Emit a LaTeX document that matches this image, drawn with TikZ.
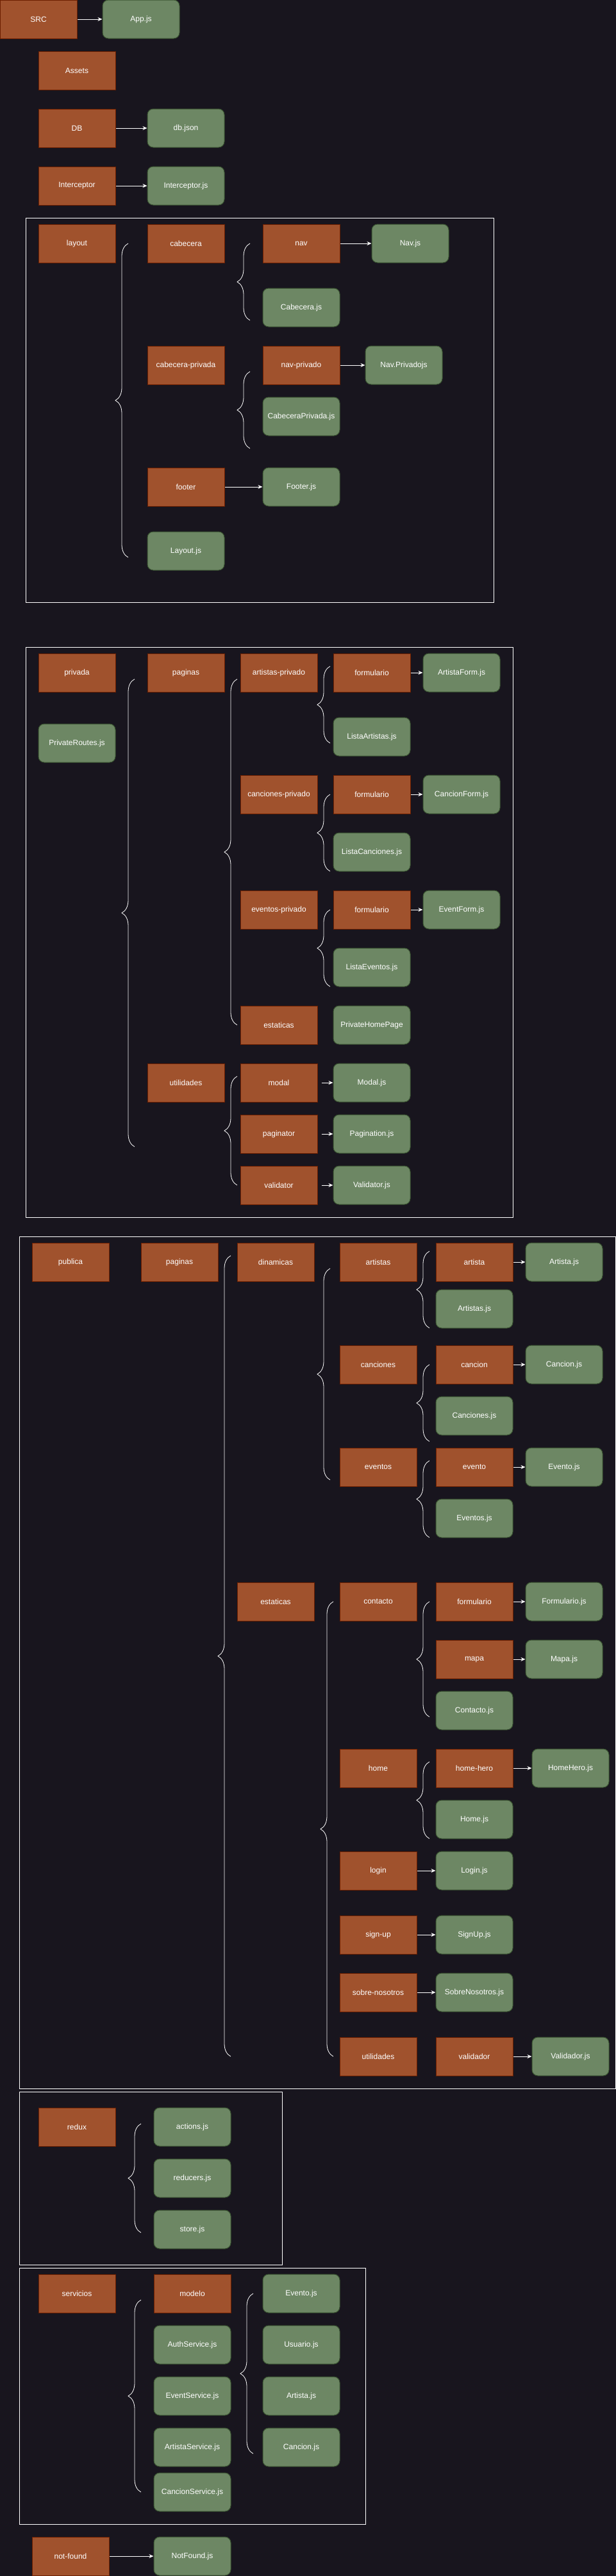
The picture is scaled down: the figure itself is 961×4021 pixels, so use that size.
\documentclass[tikz,border=0pt]{standalone}
\usepackage{fontspec}
\setmainfont{Liberation Sans}
\usetikzlibrary{arrows.meta, decorations.pathreplacing}

\definecolor{fondo}{HTML}{18151E}
\definecolor{naranja}{HTML}{A0522D}
\definecolor{naranjaborde}{HTML}{6D1F00}
\definecolor{verde}{HTML}{6D8764}
\definecolor{verdeborde}{HTML}{3A5431}

\tikzset{
	carpeta/.style={draw=naranjaborde, fill=naranja, text=white, line width=1pt,
		minimum width=120pt, minimum height=60pt, inner sep=0pt,
		font=\fontsize{12}{14}\selectfont},
	archivo/.style={carpeta, draw=verdeborde, fill=verde, rounded corners=9pt},
	llave/.style={draw=white, line width=0.8pt, decorate, decoration={brace, amplitude=20pt}},
	marco/.style={draw=white, line width=1pt},
	flecha/.style={draw=white, line width=1pt, ->, >={Stealth[length=7pt, width=6pt]}},
}

\begin{document}
\begin{tikzpicture}[x=1pt, y=-1pt]
	\fill[fondo] (0, 0) rectangle (961, 4021);
	\useasboundingbox (0, 0) rectangle (961, 4021);

	% raiz
	\node[carpeta] (src) at (60, 30) {SRC};
	\node[archivo] (app) at (220, 30) {App.js};
	\node[carpeta] (assets) at (120, 110) {Assets};
	\node[carpeta] (db) at (120, 200) {DB};
	\node[archivo] (dbjson) at (290, 200) {db.json};
	\node[carpeta] (inter) at (120, 290) {Interceptor};
	\node[archivo] (interjs) at (290, 290) {Interceptor.js};

	\draw[flecha] (src) -- (app);
	\draw[flecha] (db) -- (dbjson);
	\draw[flecha] (inter) -- (interjs);

	% layout
	\draw[marco] (40, 340) rectangle (770, 940);

	\node[carpeta] (layout) at (120, 380) {layout};
	\node[carpeta] (cab) at (290, 380) {cabecera};
	\node[carpeta] (nav) at (470, 380) {nav};
	\node[archivo] (navjs) at (640, 380) {Nav.js};
	\node[archivo] (cabjs) at (470, 480) {Cabecera.js};
	\node[carpeta] (cabp) at (290, 570) {cabecera-privada};
	\node[carpeta] (navp) at (470, 570) {nav-privado};
	\node[archivo] (navpjs) at (630, 570) {Nav.Privadojs};
	\node[archivo] (cabpjs) at (470, 650) {CabeceraPrivada.js};
	\node[carpeta] (footer) at (290, 760) {footer};
	\node[archivo] (footerjs) at (470, 760) {Footer.js};
	\node[archivo] (layoutjs) at (290, 860) {Layout.js};

	\draw[flecha] (nav) -- (navjs);
	\draw[flecha] (navp) -- (navpjs);
	\draw[flecha] (footer) -- (footerjs);

	\draw[llave] (200, 870) -- (200, 380);
	\draw[llave] (390, 500) -- (390, 380);
	\draw[llave] (390, 700) -- (390, 580);

	% privada
	\draw[marco] (40, 1010) rectangle (800, 1900);

	\node[carpeta] (priv) at (120, 1050) {privada};
	\node[archivo] (privjs) at (120, 1160) {PrivateRoutes.js};
	\node[carpeta] (ppag) at (290, 1050) {paginas};
	\node[carpeta] (part) at (435, 1050) {artistas-privado};
	\node[carpeta] (pform1) at (580, 1050) {formulario};
	\node[archivo] (pform1js) at (720, 1050) {ArtistaForm.js};
	\node[archivo] (plart) at (580, 1150) {ListaArtistas.js};
	\node[carpeta] (pcan) at (435, 1240) {canciones-privado};
	\node[carpeta] (pform2) at (580, 1240) {formulario};
	\node[archivo] (pform2js) at (720, 1240) {CancionForm.js};
	\node[archivo] (plcan) at (580, 1330) {ListaCanciones.js};
	\node[carpeta] (pev) at (435, 1420) {eventos-privado};
	\node[carpeta] (pform3) at (580, 1420) {formulario};
	\node[archivo] (pform3js) at (720, 1420) {EventForm.js};
	\node[archivo] (plev) at (580, 1510) {ListaEventos.js};
	\node[carpeta] (pest) at (435, 1600) {estaticas};
	\node[archivo] (phome) at (580, 1600) {PrivateHomePage};
	\node[carpeta] (putil) at (290, 1690) {utilidades};
	\node[carpeta] (pmodal) at (435, 1690) {modal};
	\node[archivo] (pmodaljs) at (580, 1690) {Modal.js};
	\node[carpeta] (ppagin) at (435, 1770) {paginator};
	\node[archivo] (ppaginjs) at (580, 1770) {Pagination.js};
	\node[carpeta] (pvalid) at (435, 1850) {validator};
	\node[archivo] (pvalidjs) at (580, 1850) {Validator.js};

	\draw[flecha] (pform1) -- (pform1js);
	\draw[flecha] (pform2) -- (pform2js);
	\draw[flecha] (pform3) -- (pform3js);
	\draw[flecha, shorten <=6pt] (pmodal) -- (pmodaljs);
	\draw[flecha, shorten <=6pt] (ppagin) -- (ppaginjs);
	\draw[flecha, shorten <=6pt] (pvalid) -- (pvalidjs);

	\draw[llave] (210, 1790) -- (210, 1060);
	\draw[llave] (370, 1600) -- (370, 1060);
	\draw[llave] (515, 1160) -- (515, 1040);
	\draw[llave] (515, 1360) -- (515, 1240);
	\draw[llave] (515, 1540) -- (515, 1420);
	\draw[llave] (370, 1850) -- (370, 1680);

	% publica
	\draw[marco] (30, 1930) rectangle (960, 3260);

	\node[carpeta] (pub) at (110, 1970) {publica};
	\node[carpeta] (upag) at (280, 1970) {paginas};
	\node[carpeta] (udin) at (430, 1970) {dinamicas};
	\node[carpeta] (uarts) at (590, 1970) {artistas};
	\node[carpeta] (uart) at (740, 1970) {artista};
	\node[archivo] (uartjs) at (880, 1970) {Artista.js};
	\node[archivo] (uartsjs) at (740, 2043) {Artistas.js};
	\node[carpeta] (ucans) at (590, 2130) {canciones};
	\node[carpeta] (ucan) at (740, 2130) {cancion};
	\node[archivo] (ucanjs) at (880, 2130) {Cancion.js};
	\node[archivo] (ucansjs) at (740, 2210) {Canciones.js};
	\node[carpeta] (uevs) at (590, 2290) {eventos};
	\node[carpeta] (uev) at (740, 2290) {evento};
	\node[archivo] (uevjs) at (880, 2290) {Evento.js};
	\node[archivo] (uevsjs) at (740, 2370) {Eventos.js};
	\node[carpeta] (uest) at (430, 2500) {estaticas};
	\node[carpeta] (ucont) at (590, 2500) {contacto};
	\node[carpeta] (uform) at (740, 2500) {formulario};
	\node[archivo] (uformjs) at (880, 2500) {Formulario.js};
	\node[carpeta] (umapa) at (740, 2590) {mapa};
	\node[archivo] (umapajs) at (880, 2590) {Mapa.js};
	\node[archivo] (ucontjs) at (740, 2670) {Contacto.js};
	\node[carpeta] (uhome) at (590, 2760) {home};
	\node[carpeta] (uhero) at (740, 2760) {home-hero};
	\node[archivo] (uherojs) at (890, 2760) {HomeHero.js};
	\node[archivo] (uhomejs) at (740, 2840) {Home.js};
	\node[carpeta] (ulogin) at (590, 2920) {login};
	\node[archivo] (uloginjs) at (740, 2920) {Login.js};
	\node[carpeta] (usign) at (590, 3020) {sign-up};
	\node[archivo] (usignjs) at (740, 3020) {SignUp.js};
	\node[carpeta] (usobre) at (590, 3110) {sobre-nosotros};
	\node[archivo] (usobrejs) at (740, 3110) {SobreNosotros.js};
	\node[carpeta] (uutil) at (590, 3210) {utilidades};
	\node[carpeta] (uvalid) at (740, 3210) {validador};
	\node[archivo] (uvalidjs) at (890, 3210) {Validador.js};

	\draw[flecha] (uart) -- (uartjs);
	\draw[flecha] (ucan) -- (ucanjs);
	\draw[flecha] (uev) -- (uevjs);
	\draw[flecha] (uform) -- (uformjs);
	\draw[flecha] (umapa) -- (umapajs);
	\draw[flecha] (uhero) -- (uherojs);
	\draw[flecha] (ulogin) -- (uloginjs);
	\draw[flecha] (usign) -- (usignjs);
	\draw[flecha] (usobre) -- (usobrejs);
	\draw[flecha] (uvalid) -- (uvalidjs);

	\draw[llave] (360, 3210) -- (360, 1960);
	\draw[llave] (515, 2310) -- (515, 1980);
	\draw[llave] (670, 2073) -- (670, 1953);
	\draw[llave] (670, 2250) -- (670, 2130);
	\draw[llave] (670, 2400) -- (670, 2280);
	\draw[llave] (520, 3210) -- (520, 2500);
	\draw[llave] (670, 2680) -- (670, 2500);
	\draw[llave] (670, 2870) -- (670, 2750);

	% redux
	\draw[marco] (30, 3265) rectangle (440, 3535);

	\node[carpeta] (redux) at (120, 3320) {redux};
	\node[archivo] (actions) at (300, 3320) {actions.js};
	\node[archivo] (reducers) at (300, 3400) {reducers.js};
	\node[archivo] (store) at (300, 3480) {store.js};

	\draw[llave] (220, 3485) -- (220, 3315);

	% servicios
	\draw[marco] (30, 3540) rectangle (570, 3940);

	\node[carpeta] (serv) at (120, 3580) {servicios};
	\node[carpeta] (modelo) at (300, 3580) {modelo};
	\node[archivo] (auth) at (300, 3660) {AuthService.js};
	\node[archivo] (evserv) at (300, 3740) {EventService.js};
	\node[archivo] (artserv) at (300, 3820) {ArtistaService.js};
	\node[archivo] (canserv) at (300, 3890) {CancionService.js};
	\node[archivo] (mev) at (470, 3580) {Evento.js};
	\node[archivo] (musu) at (470, 3660) {Usuario.js};
	\node[archivo] (mart) at (470, 3740) {Artista.js};
	\node[archivo] (mcan) at (470, 3820) {Cancion.js};

	\draw[llave] (220, 3890) -- (220, 3590);
	\draw[llave] (395, 3830) -- (395, 3580);

	% not-found
	\node[carpeta] (nf) at (110, 3990) {not-found};
	\node[archivo] (nfjs) at (300, 3990) {NotFound.js};

	\draw[flecha] (nf) -- (nfjs);

\end{tikzpicture}
\end{document}
